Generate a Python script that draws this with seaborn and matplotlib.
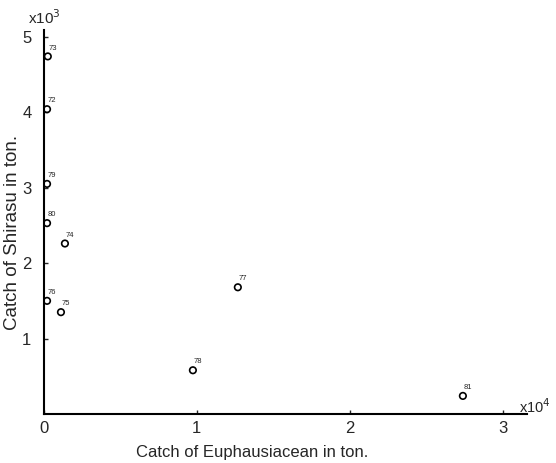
import matplotlib
matplotlib.use("Agg")
import matplotlib.pyplot as plt
import seaborn as sns
import pandas as pd

years = ["73", "72", "79", "80", "74", "76", "75", "77", "78", "81"]
euphausiacean = [250, 200, 200, 200, 1370, 200, 1110, 12680, 9740, 27400]
shirasu = [4740, 4040, 3050, 2530, 2260, 1500, 1350, 1680, 580, 240]
x_ticks = [0, 10000, 20000, 30000]
x_tick_labels = ["0", "1", "2", "3"]
y_ticks = [1000, 2000, 3000, 4000, 5000]
y_tick_labels = ["1", "2", "3", "4", "5"]

df = pd.DataFrame({"year": years, "euph": euphausiacean, "shirasu": shirasu})

sns.set_style("ticks")
plt.rcParams["font.family"] = ["Liberation Sans", "DejaVu Sans"]

fig = plt.figure(figsize=(5.56, 4.63), dpi=100)
ax = fig.add_axes([0.0791, 0.1058, 0.8689, 0.8294])

sns.scatterplot(data=df, x="euph", y="shirasu", ax=ax, marker="o", s=22,
                facecolor="none", edgecolor="black", linewidth=1.2, legend=False)

for _, r in df.iterrows():
    ax.annotate(r["year"], (r["euph"], r["shirasu"]), xytext=(0.5, 3.5),
                textcoords="offset points", fontsize=5.5, ha="left", va="bottom")

ax.set_xlim(0, 31600)
ax.set_ylim(0, 5090)
ax.set_xticks(x_ticks)
ax.set_xticklabels(x_tick_labels, fontsize=12)
ax.set_yticks(y_ticks)
ax.set_yticklabels(y_tick_labels, fontsize=12)
ax.tick_params(axis="x", direction="in", length=3, width=1, pad=5)
ax.tick_params(axis="y", direction="in", length=3, width=1, pad=9)
for s in ["top", "right"]:
    ax.spines[s].set_visible(False)
for s in ["left", "bottom"]:
    ax.spines[s].set_linewidth(1.5)
    ax.spines[s].set_color("black")

ax.set_xlabel("Catch of Euphausiacean in ton.", fontsize=12)
ax.xaxis.set_label_coords(0.43, -0.08)
ax.set_ylabel("Catch of Shirasu in ton.", fontsize=13.5)
ax.yaxis.set_label_coords(-0.047, 0.474)

fig.text(0.05, 0.962, r"x10$^3$", fontsize=11, ha="left", va="center")
fig.text(0.933, 0.121, r"x10$^4$", fontsize=10.5, ha="left", va="center")

fig.savefig("out.png", dpi=100, facecolor="white")
